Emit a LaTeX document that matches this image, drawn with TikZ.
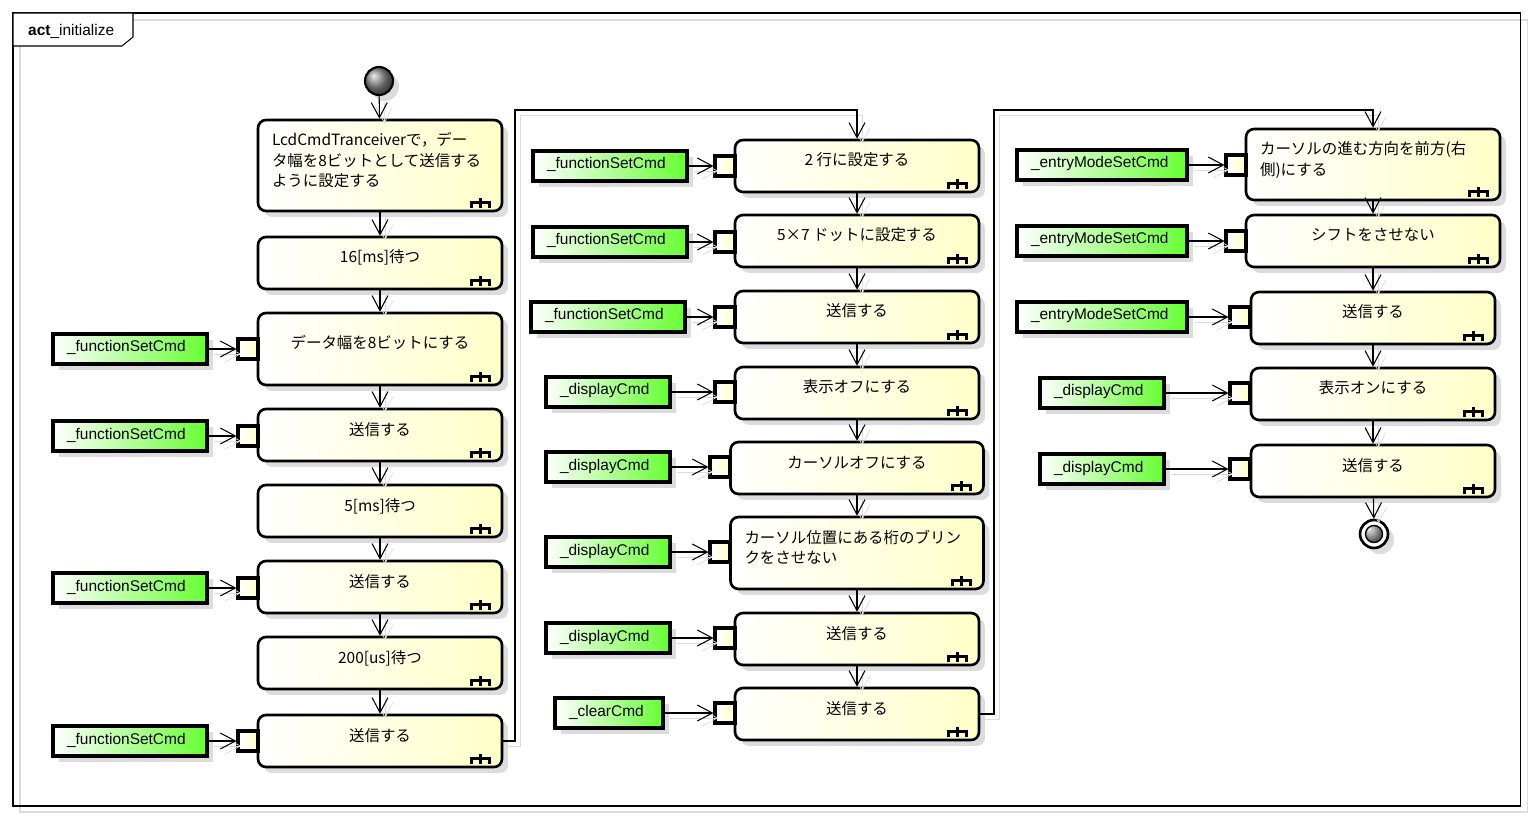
\documentclass[tikz,border=0pt]{standalone}
\usepackage{fontspec}
\setmainfont{Liberation Sans}
\newfontfamily\jpfont{Noto Sans CJK JP}
\usetikzlibrary{arrows.meta,shadows}
\definecolor{actfill}{RGB}{255, 255, 200}
\definecolor{objfill}{RGB}{102, 255, 51}
\definecolor{shadowgray}{RGB}{220, 220, 220}

\tikzset{
    nshadow/.style={drop shadow={shadow xshift=0.12cm, shadow yshift=-0.12cm, fill=shadowgray, opacity=1}},
    act/.style={draw, line width=1.5pt, rounded corners=0.16cm, minimum width=4.88cm,
        inner xsep=0.28cm, inner ysep=0pt, text height=0.52cm, text depth=0.52cm,
        left color=white, right color=actfill, nshadow,
        font=\jpfont\fontsize{8.8}{11.4}\selectfont},
    obj/.style={draw, line width=2pt, inner xsep=0.28cm, inner ysep=0pt,
        text height=0.36cm, text depth=0.24cm, text width=#1, align=left,
        left color=white, right color=objfill, nshadow,
        font=\fontsize{8.8}{10.5}\selectfont},
    pinbox/.style={draw, line width=1.8pt, minimum size=0.4cm, inner sep=0pt,
        left color=white, right color=actfill},
    flow/.style={line width=0.6pt, -{Straight Barb[length=0.3cm, width=0.32cm]},
        preaction={draw=shadowgray, transform canvas={shift={(0.1cm,-0.1cm)}}}},
}
\newcommand{\rakeicon}[1]{%
    \draw[line width=0.06cm] ([shift={(-32,-4)}]#1.south east) |- ([shift={(-14,-10)}]#1.south east)
        -- ([shift={(-14,-4)}]#1.south east)
        ([shift={(-23,-14)}]#1.south east) -- ([shift={(-23,-4)}]#1.south east);}

\begin{document}
\begin{tikzpicture}[x=0.02cm, y=-0.02cm]
            \useasboundingbox (0, 0) rectangle (1533, 820);
            \draw[shadowgray, line width=0.6pt] (20, 20) rectangle (1527, 812);
            \draw[line width=0.6pt] (13, 13) rectangle (1520, 806);
            \draw[line width=0.6pt, fill=white] (13, 13) -- (133, 13) -- (133, 37) -- (122, 46) -- (13, 46) -- cycle;
            \node[anchor=west, font=\fontsize{8.8}{10.5}\selectfont](title) at (22, 31) {\textbf{act}\_initialize};

            \node[circle, draw, line width=1.2pt, minimum size=0.56cm, inner sep=0pt, ball color=black!45, nshadow](init) at (379, 81) {};
            \node[act, text width=4.32cm, align=left, text depth=1.30cm](a1) at (380, 165.5) {LcdCmdTranceiverで，デー\\タ幅を8ビットとして送信する\\ように設定する};
            \node[act](a2) at (380, 263) {16[ms]待つ};
            \node[act, text height=0.72cm, text depth=0.72cm](a3) at (380, 349) {データ幅を8ビットにする};
            \node[act](a4) at (380, 435) {送信する};
            \node[act](a5) at (380, 511) {5[ms]待つ};
            \node[act](a6) at (380, 587) {送信する};
            \node[act](a7) at (380, 663) {200[us]待つ};
            \node[act](a8) at (380, 741) {送信する};

            \node[act](b1) at (857, 166) {2 行に設定する};
            \node[act](b2) at (857, 241) {5×7 ドットに設定する};
            \node[act](b3) at (857, 317) {送信する};
            \node[act](b4) at (857, 393) {表示オフにする};
            \node[act, minimum width=5.06cm](b5) at (857, 468) {カーソルオフにする};
            \node[act, text width=4.50cm, align=left, text depth=0.92cm](b6) at (857, 553) {カーソル位置にある桁のブリン\\クをさせない};
            \node[act](b7) at (857, 639) {送信する};
            \node[act](b8) at (857, 714) {送信する};

            \node[act, text width=4.52cm, align=left, text depth=0.90cm](c1) at (1373, 164.5) {カーソルの進む方向を前方(右\\側)にする};
            \node[act, minimum width=5.08cm](c2) at (1373, 241) {シフトをさせない};
            \node[act](c3) at (1373, 318) {送信する};
            \node[act](c4) at (1373, 394) {表示オンにする};
            \node[act](c5) at (1373, 471) {送信する};
            \node[circle, draw, line width=1.5pt, fill=white, minimum size=0.56cm, inner sep=0pt, nshadow,
                path picture={\draw[line width=0.8pt, ball color=black!45] (path picture bounding box.center) circle (0.17cm);}](fin) at (1374, 534) {};

            \node[obj=2.52cm](oa3) at (130, 349) {\_functionSetCmd};
            \node[obj=2.52cm](oa4) at (130, 436) {\_functionSetCmd};
            \node[obj=2.52cm](oa6) at (130, 588) {\_functionSetCmd};
            \node[obj=2.52cm](oa8) at (130, 741) {\_functionSetCmd};
            \node[pinbox](pa3) at (248, 349) {};
            \node[pinbox](pa4) at (248, 436) {};
            \node[pinbox](pa6) at (248, 588) {};
            \node[pinbox](pa8) at (248, 741) {};

            \node[obj=2.52cm](ob1) at (610, 166) {\_functionSetCmd};
            \node[obj=2.52cm](ob2) at (610, 242) {\_functionSetCmd};
            \node[obj=2.52cm](ob3) at (608, 317) {\_functionSetCmd};
            \node[obj=1.92cm](ob4) at (608, 392) {\_displayCmd};
            \node[obj=1.92cm](ob5) at (608, 467) {\_displayCmd};
            \node[obj=1.92cm](ob6) at (608, 552) {\_displayCmd};
            \node[obj=1.92cm](ob7) at (608, 638) {\_displayCmd};
            \node[obj=1.60cm](ob8) at (609, 713) {\_clearCmd};
            \node[pinbox](pb1) at (725, 166) {};
            \node[pinbox](pb2) at (725, 242) {};
            \node[pinbox](pb3) at (725, 317) {};
            \node[pinbox](pb4) at (725, 392) {};
            \node[pinbox](pb5) at (720, 467) {};
            \node[pinbox](pb6) at (720, 552) {};
            \node[pinbox](pb7) at (725, 638) {};
            \node[pinbox](pb8) at (725, 713) {};

            \node[obj=2.84cm](oc1) at (1102, 165) {\_entryModeSetCmd};
            \node[obj=2.84cm](oc2) at (1102, 241) {\_entryModeSetCmd};
            \node[obj=2.84cm](oc3) at (1102, 317) {\_entryModeSetCmd};
            \node[obj=1.92cm](oc4) at (1102, 393) {\_displayCmd};
            \node[obj=1.92cm](oc5) at (1102, 469) {\_displayCmd};
            \node[pinbox](pc1) at (1236, 165) {};
            \node[pinbox](pc2) at (1236, 241) {};
            \node[pinbox](pc3) at (1240, 317) {};
            \node[pinbox](pc4) at (1240, 393) {};
            \node[pinbox](pc5) at (1240, 469) {};

            \coordinate(k1) at (515, 110);
            \coordinate(k2) at (994, 110);

            \foreach \n in {a1,a2,a3,a4,a5,a6,a7,a8,b1,b2,b3,b4,b5,b6,b7,b8,c1,c2,c3,c4,c5}
                \rakeicon{\n};
            \foreach \u/\v in {init/a1,a1/a2,a2/a3,a3/a4,a4/a5,a5/a6,a6/a7,a7/a8,
                b1/b2,b2/b3,b3/b4,b4/b5,b5/b6,b6/b7,b7/b8,c1/c2,c2/c3,c3/c4,c4/c5,c5/fin}
                \draw[flow] (\u) -- (\v);
            \foreach \n in {a3,a4,a6,a8,b1,b2,b3,b4,b5,b6,b7,b8,c1,c2,c3,c4,c5}
                \draw[flow] (o\n) -- (p\n);
            \draw[flow] (a8) -| (k1) -| (b1);
            \draw[flow] (b8) -| (k2) -| (c1);
        \end{tikzpicture}
\end{document}
